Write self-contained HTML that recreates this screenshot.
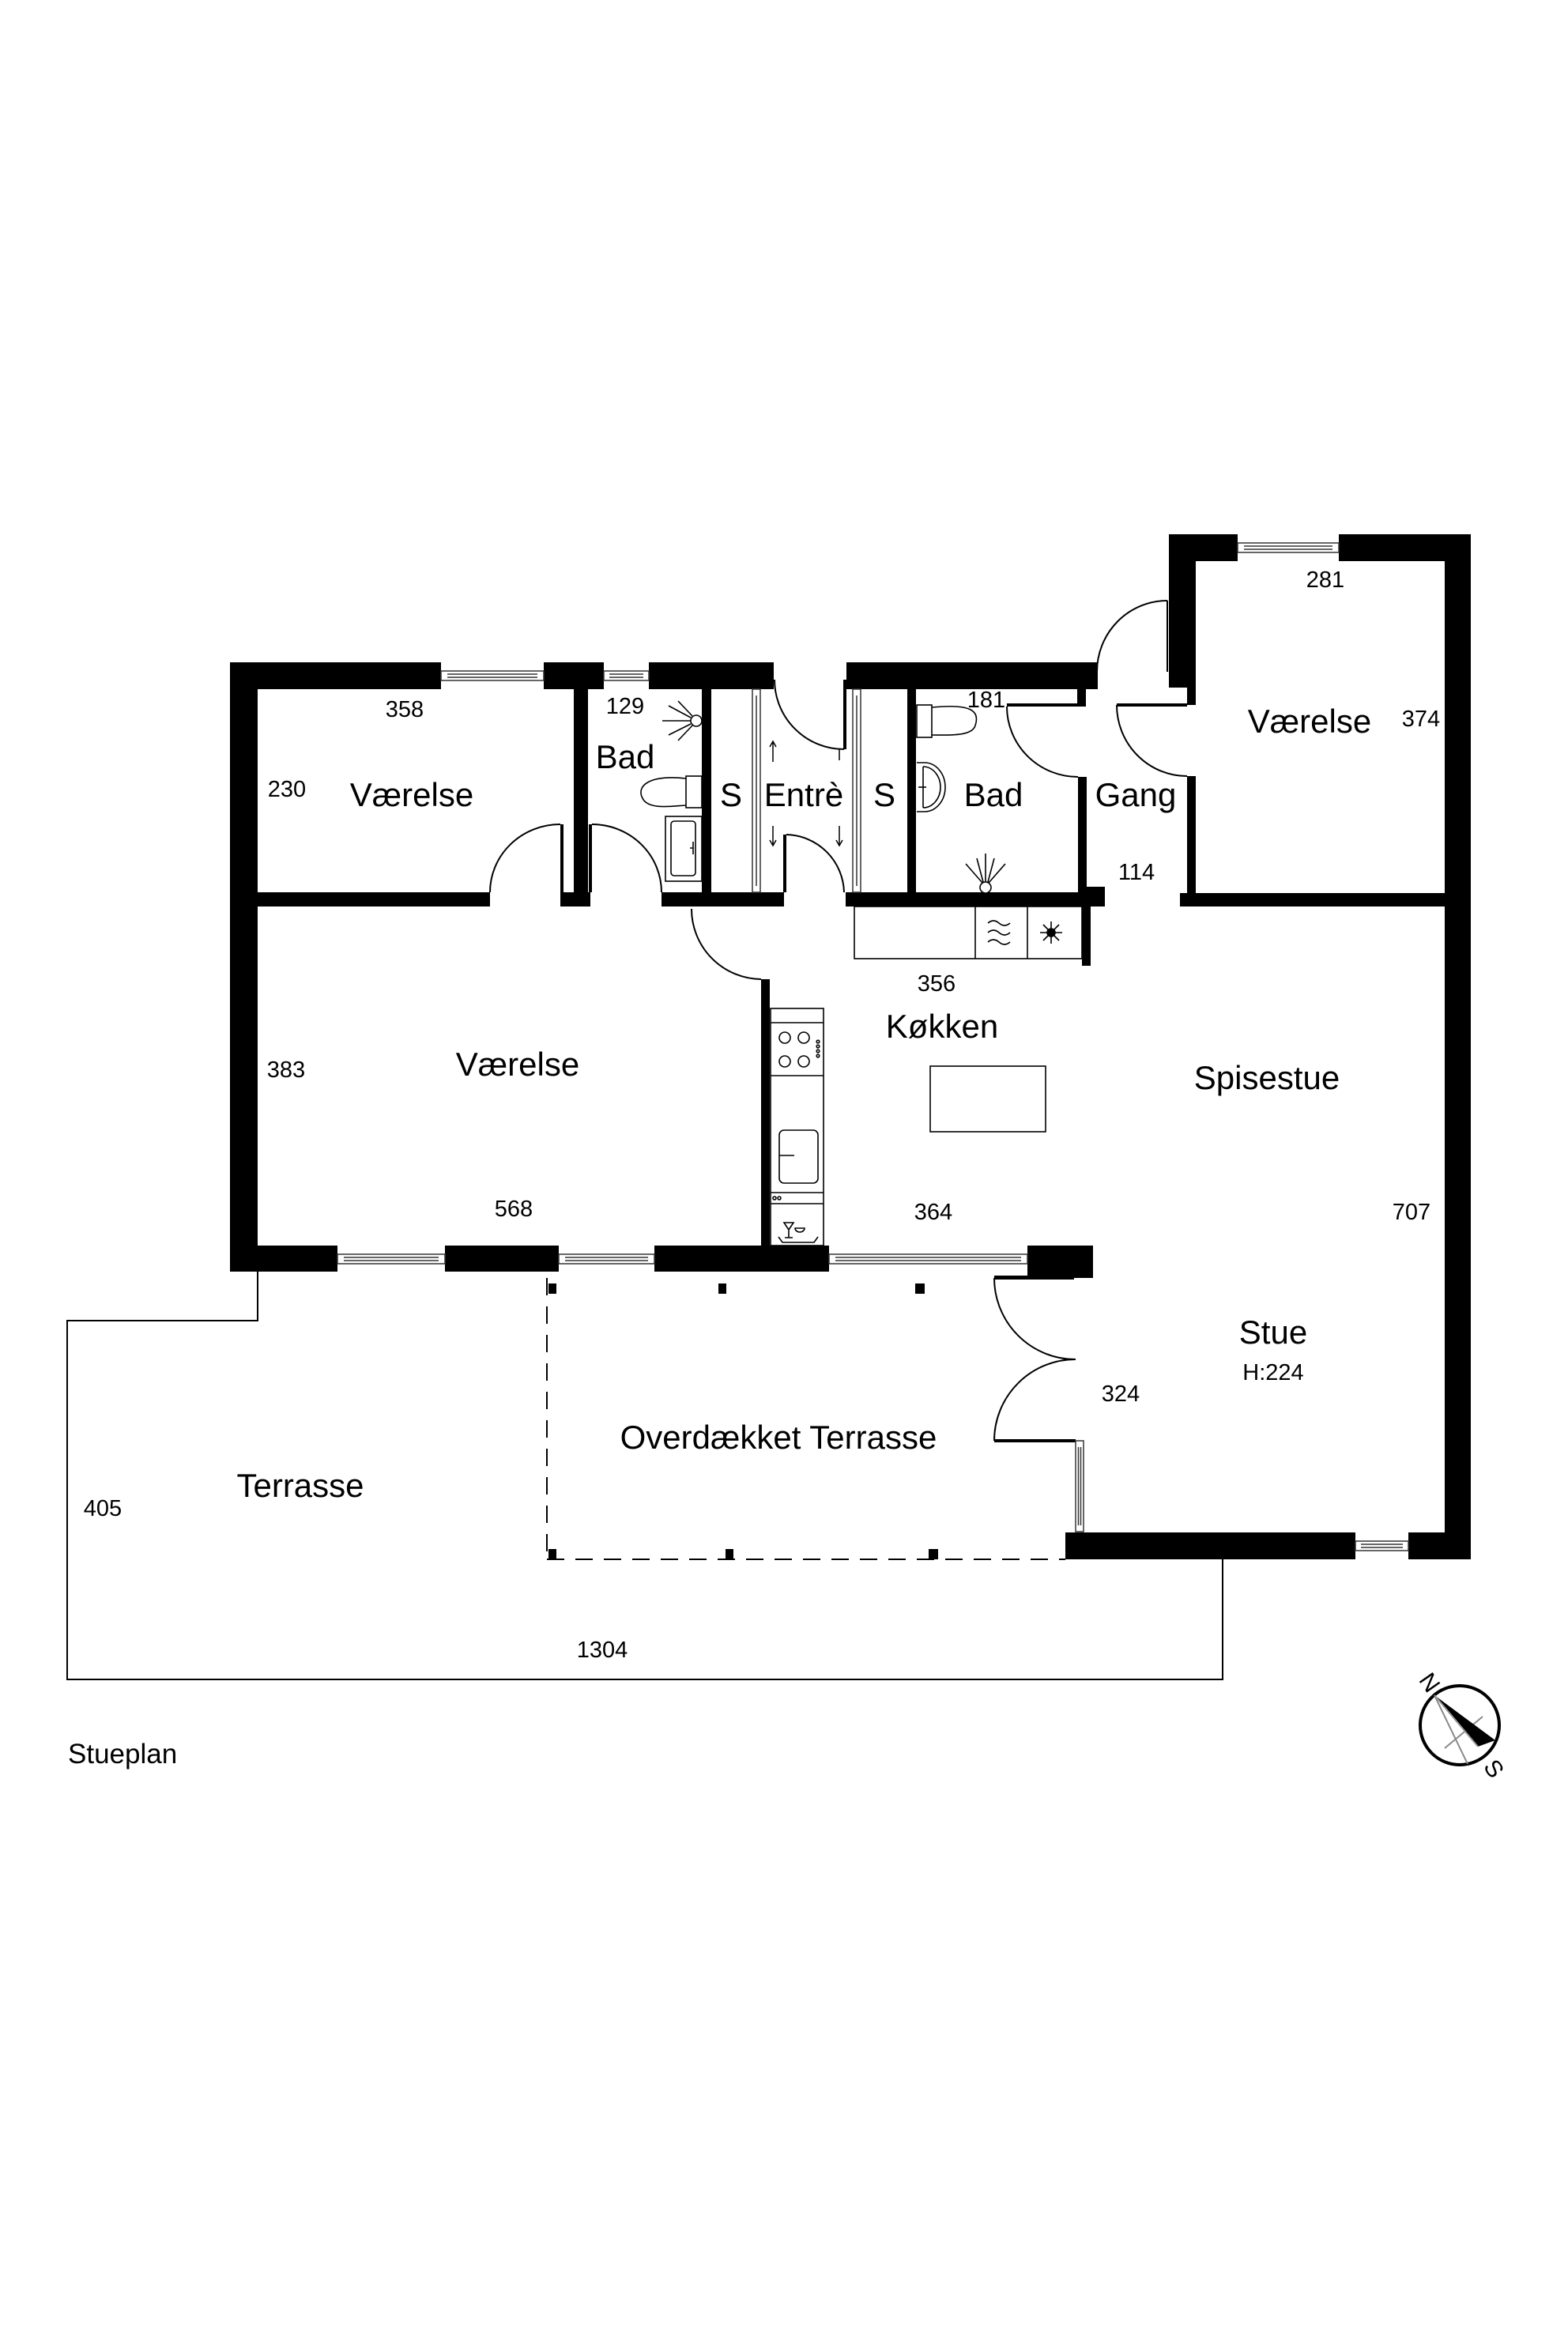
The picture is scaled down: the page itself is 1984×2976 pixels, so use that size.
<!DOCTYPE html>
<html><head><meta charset="utf-8"><style>
html,body{margin:0;padding:0;background:#fff;}
svg{display:block}
text{font-family:"Liberation Sans",Arial,sans-serif;fill:#000}
</style></head><body>
<svg width="1984" height="2976" viewBox="0 0 1984 2976" xmlns="http://www.w3.org/2000/svg">
<g fill="#000">
<rect x="291" y="838" width="267" height="34"/>
<rect x="688" y="838" width="76" height="34"/>
<rect x="821" y="838" width="158" height="34"/>
<rect x="1071" y="838" width="318" height="34"/>
<rect x="1363" y="872" width="11" height="22"/>
<rect x="291" y="838" width="35" height="771"/>
<rect x="291" y="1576" width="136" height="33"/>
<rect x="563" y="1576" width="144" height="33"/>
<rect x="828" y="1576" width="221" height="33"/>
<rect x="1300" y="1576" width="83" height="41"/>
<rect x="1258" y="1614" width="101" height="5"/>
<rect x="1479" y="676" width="34" height="194"/>
<rect x="1502" y="870" width="11" height="22"/>
<rect x="1479" y="676" width="87" height="34"/>
<rect x="1694" y="676" width="167" height="34"/>
<rect x="1828" y="676" width="33" height="1297"/>
<rect x="1493" y="1130" width="368" height="17"/>
<rect x="1502" y="982" width="11" height="165"/>
<rect x="1380" y="1122" width="18" height="25"/>
<rect x="1348" y="1939" width="367" height="34"/>
<rect x="1782" y="1939" width="79" height="34"/>
<rect x="326" y="1129" width="294" height="18"/>
<rect x="709" y="1129" width="38" height="18"/>
<rect x="837" y="1129" width="155" height="18"/>
<rect x="1070" y="1129" width="317" height="18"/>
<rect x="1373" y="1122" width="14" height="25"/>
<rect x="726" y="872" width="18" height="275"/>
<rect x="888" y="872" width="12" height="257"/>
<rect x="1148" y="872" width="11" height="257"/>
<rect x="1364" y="983" width="11" height="146"/>
<rect x="1067" y="860" width="4" height="88"/>
<rect x="991" y="1056" width="4" height="73"/>
<rect x="709" y="1043" width="4" height="86"/>
<rect x="745" y="1043" width="4" height="86"/>
<rect x="1369" y="1147" width="11" height="75"/>
<rect x="963" y="1239" width="11" height="337"/>
<rect x="1274" y="890" width="89" height="4"/>
<rect x="1413" y="890" width="89" height="4"/>
<rect x="1258" y="1821" width="103" height="4"/>
<rect x="694" y="1624" width="10" height="13"/>
<rect x="909" y="1624" width="10" height="13"/>
<rect x="1158" y="1624" width="12" height="13"/>
<rect x="694" y="1960" width="10" height="13"/>
<rect x="918" y="1960" width="10" height="13"/>
<rect x="1175" y="1960" width="12" height="13"/>
</g>
<g fill="#fff" stroke="#333" stroke-width="1.5">
<rect x="558" y="849" width="130" height="12"/><line x1="566" y1="853" x2="680" y2="853"/><line x1="566" y1="857" x2="680" y2="857"/>
<rect x="764" y="849" width="57" height="12"/><line x1="771" y1="853" x2="814" y2="853"/><line x1="771" y1="857" x2="814" y2="857"/>
<rect x="1566" y="687" width="128" height="12"/><line x1="1574" y1="691" x2="1686" y2="691"/><line x1="1574" y1="695" x2="1686" y2="695"/>
<rect x="427" y="1587" width="136" height="12"/><line x1="435" y1="1591" x2="555" y2="1591"/><line x1="435" y1="1595" x2="555" y2="1595"/>
<rect x="707" y="1587" width="121" height="12"/><line x1="715" y1="1591" x2="820" y2="1591"/><line x1="715" y1="1595" x2="820" y2="1595"/>
<rect x="1049" y="1587" width="251" height="12"/><line x1="1057" y1="1591" x2="1292" y2="1591"/><line x1="1057" y1="1595" x2="1292" y2="1595"/>
<rect x="1715" y="1950" width="67" height="12"/><line x1="1722" y1="1954" x2="1775" y2="1954"/><line x1="1722" y1="1958" x2="1775" y2="1958"/>
<rect x="1361" y="1823" width="10" height="115"/><line x1="1364.5" y1="1831" x2="1364.5" y2="1930"/><line x1="1367.5" y1="1831" x2="1367.5" y2="1930"/>
<rect x="952" y="872" width="10" height="257"/><line x1="957" y1="880" x2="957" y2="1121"/>
<rect x="1079" y="872" width="10" height="257"/><line x1="1084" y1="880" x2="1084" y2="1121"/>
</g>
<g fill="none" stroke="#000" stroke-width="2">
<path d="M980 860 A88 88 0 0 0 1068 948"/>
<path d="M995 1056 A75 75 0 0 1 1068 1129"/>
<path d="M620 1129 A89 86 0 0 1 709 1043"/>
<path d="M749 1043 A88 86 0 0 1 837 1129"/>
<path d="M1477 760 A89 90 0 0 0 1388 850"/>
<line x1="1477" y1="760" x2="1477" y2="850"/>
<path d="M1413 892 A89 90 0 0 0 1502 982"/>
<path d="M1274 894 A90 89 0 0 0 1364 983"/>
<path d="M875 1150 A89 89 0 0 0 963 1239"/>
<path d="M1258 1617 A103 103 0 0 0 1361 1720"/>
<path d="M1258 1823 A103 103 0 0 1 1361 1720"/>
</g>
<g fill="none" stroke="#000" stroke-width="2">
<polyline points="326,1609 326,1671 85,1671 85,2125 1547,2125 1547,1973"/>
<line x1="692" y1="1617" x2="692" y2="1973" stroke-dasharray="22,14"/>
<line x1="692" y1="1973" x2="1348" y2="1973" stroke-dasharray="22,14"/>
</g>
<g fill="none" stroke="#000" stroke-width="1.6">
<circle cx="881" cy="912" r="7" fill="#fff"/>
<path d="M874 912 H838 M874 908 L846 893 M874 916 L846 930 M876 906 L858 887 M876 918 L858 937"/>
<rect x="868" y="982" width="20" height="40"/>
<path d="M868 985 C820 980 805 995 813 1010 C820 1025 850 1020 868 1019"/>
<rect x="842" y="1033" width="46" height="82"/>
<rect x="849" y="1039" width="31" height="69" rx="4"/>
<path d="M877 1065 V1081 M873 1073 H877"/>
<rect x="1160" y="892" width="19" height="41"/>
<path d="M1179 895 C1230 890 1240 900 1234 918 C1230 932 1200 930 1179 930"/>
<path d="M1160 965 H1170 A26 31 0 0 1 1170 1027 H1160"/>
<path d="M1168 970 V1022 M1168 970 A22 26 0 0 1 1168 1022"/>
<path d="M1162 996 H1172"/>
<circle cx="1247" cy="1123" r="7" fill="#fff"/>
<path d="M1247 1116 V1080 M1243 1117 L1222 1093 M1251 1117 L1272 1093 M1244 1116 L1236 1086 M1250 1116 L1258 1086"/>
<rect x="1081" y="1147" width="288" height="66"/>
<line x1="1234" y1="1147" x2="1234" y2="1213"/>
<line x1="1300" y1="1147" x2="1300" y2="1213"/>
<path d="M1250 1168 q7 -6 14 0 t14 0 M1250 1180 q7 -6 14 0 t14 0 M1250 1192 q7 -6 14 0 t14 0"/>
<path d="M1316 1180 H1344 M1330 1166 V1194 M1320 1170 L1340 1190 M1340 1170 L1320 1190"/>
<circle cx="1330" cy="1180" r="5" fill="#000"/>
<rect x="975" y="1276" width="67" height="300"/>
<line x1="975" y1="1294" x2="1042" y2="1294"/>
<line x1="975" y1="1361" x2="1042" y2="1361"/>
<line x1="975" y1="1509" x2="1042" y2="1509"/>
<line x1="975" y1="1523" x2="1042" y2="1523"/>
<circle cx="993" cy="1313" r="7"/><circle cx="1017" cy="1313" r="7"/>
<circle cx="993" cy="1343" r="7"/><circle cx="1017" cy="1343" r="7"/>
<circle cx="1035" cy="1318" r="1.8"/><circle cx="1035" cy="1324" r="1.8"/><circle cx="1035" cy="1330" r="1.8"/><circle cx="1035" cy="1336" r="1.8"/>
<rect x="986" y="1430" width="49" height="67" rx="6"/>
<line x1="986" y1="1462" x2="1005" y2="1462"/>
<circle cx="980" cy="1516" r="2"/><circle cx="986" cy="1516" r="2"/>
<path d="M992 1547 H1004 L998 1556 Z M998 1556 V1566 M993 1566 H1003 M1006 1554 A6 5 0 0 0 1018 1554 Z M985 1565 L990 1572 H1030 L1035 1565"/>
<rect x="1177" y="1349" width="146" height="83"/>
</g>
<g font-size="42" text-anchor="middle">
<text x="521" y="1020">Værelse</text>
<text x="791" y="972">Bad</text>
<text x="925" y="1020">S</text>
<text x="1017" y="1020">Entrè</text>
<text x="1119" y="1020">S</text>
<text x="1257" y="1020">Bad</text>
<text x="1437" y="1020">Gang</text>
<text x="1657" y="927">Værelse</text>
<text x="655" y="1361">Værelse</text>
<text x="1192" y="1313">Køkken</text>
<text x="1603" y="1378">Spisestue</text>
<text x="1611" y="1700">Stue</text>
<text x="985" y="1833">Overdækket Terrasse</text>
<text x="380" y="1894">Terrasse</text>
</g>
<g font-size="29" text-anchor="middle">
<text x="512" y="907">358</text>
<text x="791" y="903">129</text>
<text x="1248" y="895">181</text>
<text x="1677" y="743">281</text>
<text x="1798" y="919">374</text>
<text x="363" y="1008">230</text>
<text x="1438" y="1113">114</text>
<text x="1185" y="1254">356</text>
<text x="362" y="1363">383</text>
<text x="650" y="1539">568</text>
<text x="1181" y="1543">364</text>
<text x="1786" y="1543">707</text>
<text x="1611" y="1746">H:224</text>
<text x="1418" y="1773">324</text>
<text x="130" y="1918">405</text>
<text x="762" y="2097">1304</text>
</g>
<text x="86" y="2231" font-size="35">Stueplan</text>
<g>
<path d="M978 938 V964 M974 945 L978 938 L982 945" stroke="#000" stroke-width="1.5" fill="none"/>
<path d="M978 1045 V1070 M974 1063 L978 1070 L982 1063" stroke="#000" stroke-width="1.5" fill="none"/>
<path d="M1062 948 V962" stroke="#000" stroke-width="1.5" fill="none"/>
<path d="M1062 1045 V1070 M1058 1063 L1062 1070 L1066 1063" stroke="#000" stroke-width="1.5" fill="none"/>
</g>
<g>
<circle cx="1847" cy="2183" r="50" fill="#fff" stroke="#000" stroke-width="4"/>
<path d="M1815 2145 L1857 2232 M1828 2212 L1876 2172" stroke="#888" stroke-width="2" fill="none"/>
<path d="M1815 2145 L1892 2202 L1870 2210 Z" fill="#000"/>
<path d="M1815 2145 L1870 2210" stroke="#999" stroke-width="2"/>
<text x="1800" y="2135" font-size="30" transform="rotate(55 1806 2125)">N</text>
<text x="1880" y="2248" font-size="30" transform="rotate(55 1890 2238)">S</text>
</g>
</svg>
</body></html>
